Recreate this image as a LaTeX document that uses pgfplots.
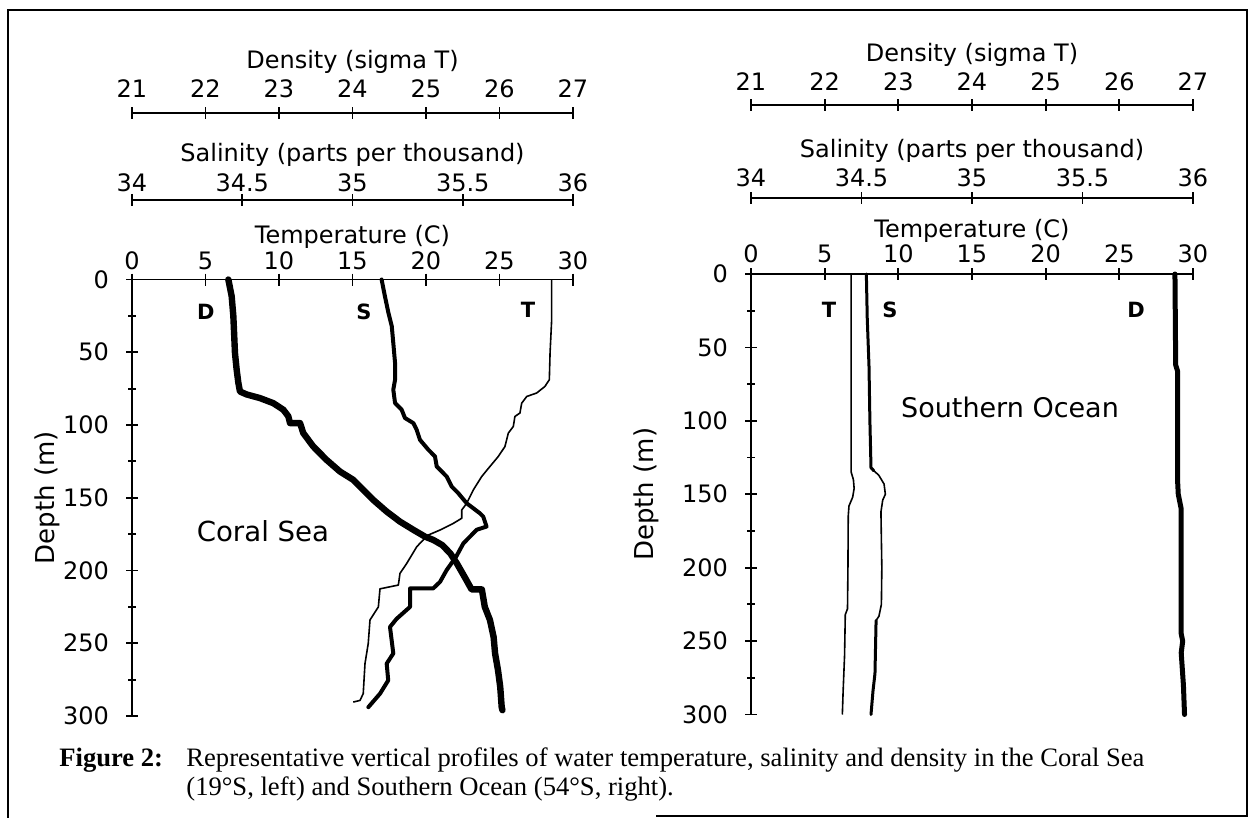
\documentclass[border=0pt]{standalone}
\usepackage{fontspec}
\setmainfont{DejaVu Sans}
\newfontfamily\capfont{Liberation Serif}
\usepackage{pgfplots}
\usepackage{pgfplotstable}
\pgfplotsset{compat=1.18}

% ---------- Coral Sea (left) ----------
\pgfplotstableread{
d v
0 28.55
27.5 28.55
50.5 28.44
68.9 28.39
73.5 28.09
78 27.53
80.4 26.85
85 26.51
91.8 26.39
94.1 26.05
101 25.94
105.6 25.60
114.8 25.37
121.6 24.92
128.5 24.35
135.4 23.79
144.6 23.22
153.8 22.77
158.4 22.43
164.1 22.43
167.6 21.86
172.2 20.95
175.6 20.16
181.3 19.59
183.7 19.37
195.1 18.69
202 18.23
210 18.12
212.6 16.87
225 16.76
234 16.19
250.2 16.07
264 15.85
284.6 15.73
289.3 15.51
290.4 15.05
}\LT
\pgfplotstableread{
d v
0 35.132
11.5 35.147
23 35.163
32 35.178
43.6 35.185
57.4 35.193
68.9 35.193
75.7 35.185
84.9 35.193
89.5 35.223
95.2 35.238
98.7 35.276
103.3 35.291
110.2 35.306
117 35.344
121.6 35.374
128.5 35.382
135.4 35.427
142.3 35.450
146.9 35.480
153.8 35.518
160.7 35.578
163 35.593
169.8 35.608
172 35.563
176.7 35.533
181.3 35.503
190.5 35.470
199.7 35.427
207.8 35.397
212.3 35.366
212.3 35.261
225 35.261
233.2 35.200
238.8 35.170
257 35.185
264 35.155
275.5 35.162
284.6 35.125
293.9 35.072
}\LS
\pgfplotstableread{
d v
0 22.311
11.5 22.356
25.2 22.379
50.5 22.401
62 22.424
71 22.447
77 22.469
79 22.56
81.5 22.741
85 22.923
89.5 23.059
94 23.127
98.7 23.15
98.7 23.286
105.6 23.331
114.8 23.467
124 23.648
132 23.83
137.7 24.011
144.6 24.147
151.5 24.283
159.5 24.465
166.4 24.646
172 24.827
176.7 24.986
179 25.10
182.5 25.22
188.2 25.33
195.1 25.42
206.6 25.55
213 25.62
213 25.76
225 25.80
234 25.87
245.7 25.92
257 25.94
268.6 25.98
280 26.01
293.9 26.03
296 26.04
}\LD

% ---------- Southern Ocean (right) ----------
\pgfplotstableread{
d v
0 6.8
135 6.8
140 6.95
146 7.0
152 6.9
158 6.65
165 6.6
200 6.58
228 6.55
232 6.4
260 6.35
285 6.25
300 6.2
}\RT
\pgfplotstableread{
d v
0 34.522
30 34.526
63 34.534
100 34.538
132 34.543
134 34.556
}\RSa
\pgfplotstableread{
d v
134 34.556
137 34.578
143 34.602
150 34.608
154 34.596
162 34.588
200 34.592
225 34.590
233 34.579
236 34.566
}\RSb
\pgfplotstableread{
d v
236 34.566
272 34.561
284 34.552
300 34.543
}\RSc
\pgfplotstableread{
d v
0 26.755
30 26.76
62 26.765
66 26.79
140 26.79
150 26.80
160 26.84
200 26.84
245 26.84
250 26.86
258 26.84
280 26.87
300 26.885
}\RD

\pgfplotsset{
  base/.style={scale only axis, anchor=south west, y dir=reverse, ymax=300, clip=false,
    tick align=inside, major tick length=6pt, minor tick length=4pt,
    tick style={black, line width=0.9pt},
    /pgf/number format/assume math mode=true,
    tick label style={font=\fontsize{12}{14}\selectfont},
  },
  fin/.style={
    axis line style={-, line width=0.9pt},
    x axis line style={-}, y axis line style={-},
    every outer x axis line/.append style={-},
    every outer y axis line/.append style={-},
    xlabel style={font=\fontsize{12}{14}\selectfont, at={(axis description cs:0.5,1)}, anchor=base, yshift=#1},
    ylabel style={font=\fontsize{13}{15}\selectfont},
  },
  topax/.style={base, axis x line=top, hide y axis},
  Tl/.style={black, line width=0.8pt, line join=round},
  Sl/.style={black, line width=2pt, line join=round, line cap=round},
  Sthin/.style={black, line width=0.8pt, line join=round},
  Dl/.style={black, line width=3.2pt, line join=round, line cap=round},
}
\tikzset{lab/.style={font=\bfseries\fontsize{10.5}{12}\selectfont}}

\begin{document}
\begin{tikzpicture}
\path (0,0) rectangle (627.5pt,-409pt);
\draw[line width=1.3pt] (328pt,-408pt) -- (623.5pt,-408pt) -- (623.5pt,-5pt) -- (4pt,-5pt) -- (4pt,-409pt);

% ===== Left panel =====
\begin{axis}[topax, at={(66pt,-358pt)}, width=220.5pt, height=301.5pt,
  xmin=21, xmax=27, ymin=-114.43, xtick={21,22,...,27},
  xlabel={Density (sigma T)},
  xticklabel style={anchor=base, yshift=5pt}, fin=22.5pt]
\addplot[Dl] table[x=v, y=d] {\LD};
\end{axis}
\begin{axis}[topax, at={(66pt,-358pt)}, width=220.5pt, height=258pt,
  xmin=34, xmax=36, ymin=-54.64, xtick={34,34.5,35,35.5,36},
  xlabel={Salinity (parts per thousand)},
  xticklabel style={anchor=base, yshift=1pt}, fin=19.5pt]
\addplot[Sl] table[x=v, y=d] {\LS};
\end{axis}
\begin{axis}[base, at={(66pt,-358pt)}, width=220.5pt, height=218.25pt,
  xmin=0, xmax=30, ymin=0, axis x line=top, axis y line=left,
  xtick={0,5,...,30}, ytick={0,50,...,300}, minor ytick={25,75,...,275},
  xlabel={Temperature (C)},
  xticklabel style={anchor=base, yshift=2pt},
  yticklabel style={xshift=-5pt},
  ylabel={Depth (m)}, fin=18pt,
  ylabel style={at={(axis description cs:-0.193,0.5)}, anchor=center}]
\addplot[Tl] table[x=v, y=d] {\LT};
\node[lab] at (axis cs:5.03,22) {D};
\node[lab] at (axis cs:15.78,22) {S};
\node[lab] at (axis cs:26.94,21) {T};
\node[font=\fontsize{13.8}{15}\selectfont] at (axis cs:8.91,173.3) {Coral Sea};
\end{axis}

% ===== Right panel =====
\begin{axis}[topax, at={(375.5pt,-357.25pt)}, width=221pt, height=304.75pt,
  xmin=21, xmax=27, ymin=-115.10, xtick={21,22,...,27},
  xlabel={Density (sigma T)},
  xticklabel style={anchor=base, yshift=4.5pt}, fin=22pt]
\addplot[Dl, line width=2.5pt] table[x=v, y=d] {\RD};
\end{axis}
\begin{axis}[topax, at={(375.5pt,-357.25pt)}, width=221pt, height=258.25pt,
  xmin=34, xmax=36, ymin=-51.76, xtick={34,34.5,35,35.5,36},
  xlabel={Salinity (parts per thousand)},
  xticklabel style={anchor=base, yshift=3pt}, fin=20.5pt]
\addplot[Sl, line width=1.5pt] table[x=v, y=d] {\RSa};
\addplot[Sthin] table[x=v, y=d] {\RSb};
\addplot[Sl, line width=1.5pt] table[x=v, y=d] {\RSc};
\end{axis}
\begin{axis}[base, at={(375.5pt,-357.25pt)}, width=221pt, height=220.25pt,
  xmin=0, xmax=30, ymin=0, axis x line=top, axis y line=left,
  xtick={0,5,...,30}, ytick={0,50,...,300}, minor ytick={25,75,...,275},
  xlabel={Temperature (C)},
  xticklabel style={anchor=base, yshift=3pt},
  yticklabel style={xshift=-5pt},
  ylabel={Depth (m)}, fin=18.5pt,
  ylabel style={at={(axis description cs:-0.236,0.5)}, anchor=center}]
\addplot[Tl] table[x=v, y=d] {\RT};
\node[lab] at (axis cs:5.29,24.5) {T};
\node[lab] at (axis cs:9.43,24.5) {S};
\node[lab] at (axis cs:26.13,24.5) {D};
\node[font=\fontsize{13.5}{15}\selectfont] at (axis cs:17.58,90.6) {Southern Ocean};
\end{axis}

% ===== Caption =====
\node[anchor=base west, inner sep=0, font=\capfont\bfseries\fontsize{13.3}{15}\selectfont] at (29.5pt,-383pt) {Figure 2:};
\node[anchor=base west, inner sep=0, font=\capfont\fontsize{13.3}{15}\selectfont] at (93pt,-383pt) {Representative vertical profiles of water temperature, salinity and density in the Coral Sea};
\node[anchor=base west, inner sep=0, font=\capfont\fontsize{13.3}{15}\selectfont] at (93pt,-397.5pt) {(19°S, left) and Southern Ocean (54°S, right).};
\end{tikzpicture}
\end{document}
